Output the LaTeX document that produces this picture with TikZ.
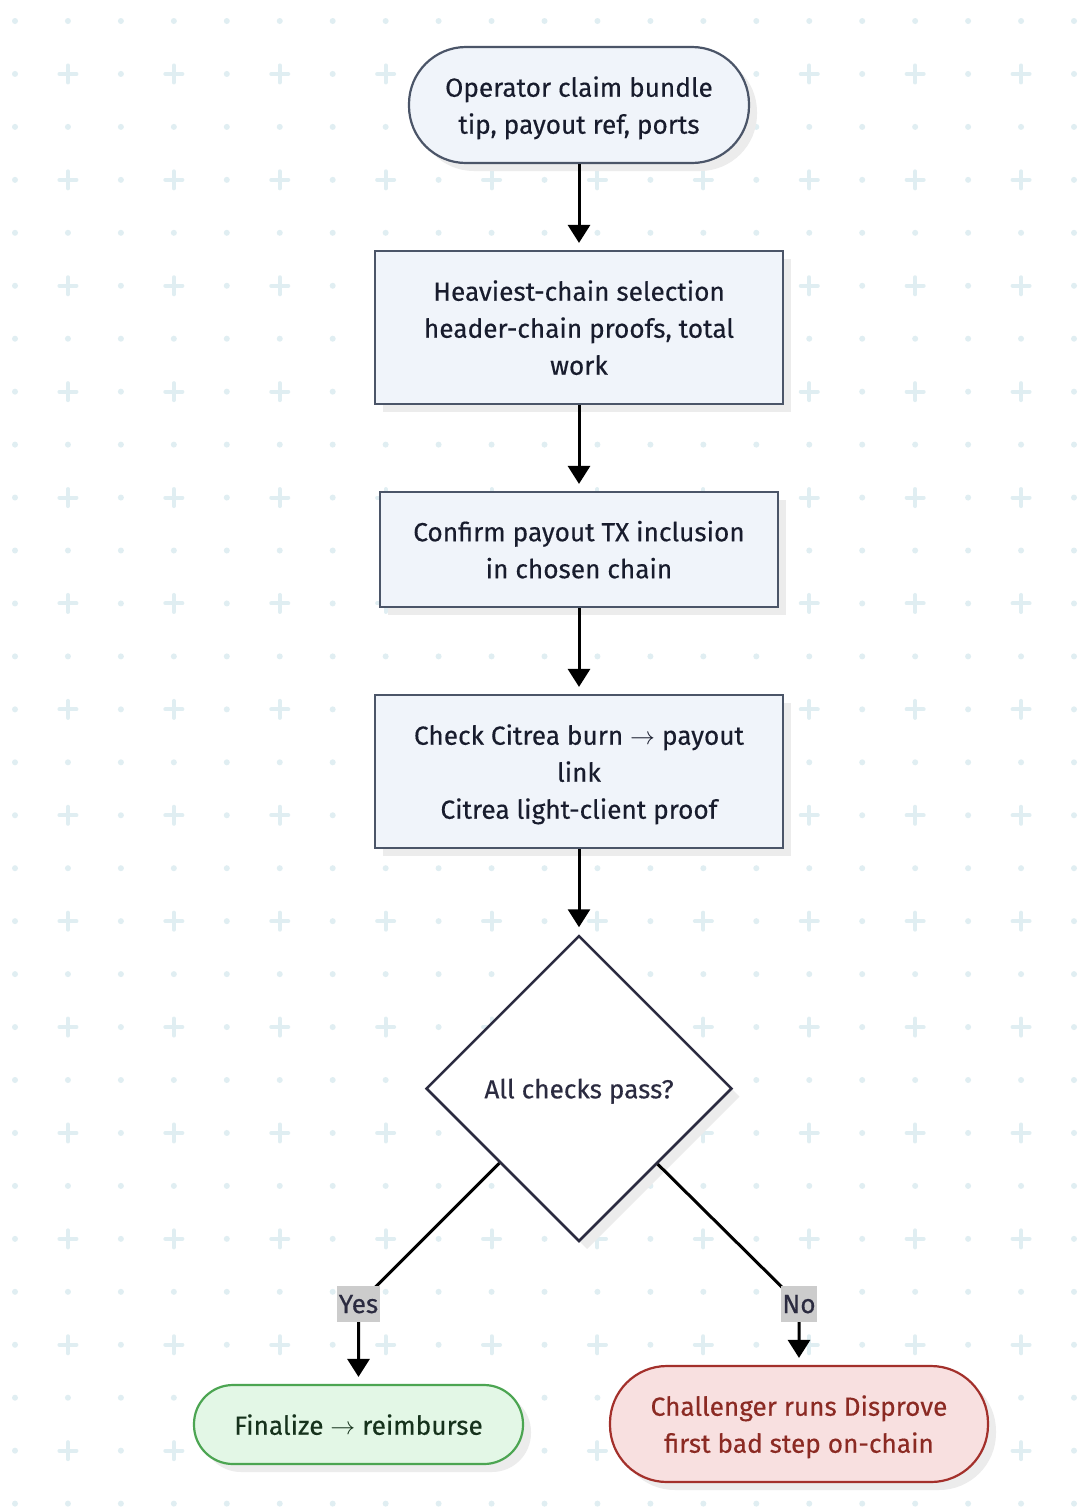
\documentclass[tikz,border=0pt]{standalone}
\usepackage{fontspec}
\setmainfont{Fira Sans}[UprightFeatures={FakeBold=0.35}]
\usetikzlibrary{shapes.geometric,arrows.meta,calc,shadows}
\definecolor{gridc}{RGB}{224,238,242}
\definecolor{boxfill}{RGB}{240,244,250}
\definecolor{boxline}{RGB}{75,85,104}
\definecolor{txt}{RGB}{24,28,45}
\definecolor{dtxt}{RGB}{43,43,64}
\definecolor{dline}{RGB}{43,43,64}
\definecolor{gfill}{RGB}{227,247,230}
\definecolor{gline}{RGB}{76,165,82}
\definecolor{gtxt}{RGB}{22,50,28}
\definecolor{rfill}{RGB}{248,224,224}
\definecolor{rline}{RGB}{163,48,43}
\definecolor{rtxt}{RGB}{139,42,35}
\definecolor{lblfill}{RGB}{204,204,204}
\definecolor{shad}{RGB}{236,236,236}
\newcommand{\arrowsym}{\ensuremath{\rightarrow}}
\begin{document}
\begin{tikzpicture}[x=1pt,y=-1pt,
  every node/.style={font=\fontsize{26.2}{37}\selectfont, text=txt, align=center, inner sep=0pt, text depth=0pt},
  shd/.style={drop shadow={shadow xshift=8pt,shadow yshift=-8pt,fill=shad,opacity=1}},
  procbox/.style={shd, draw=boxline, fill=boxfill, line width=2.2pt, minimum width=408pt, minimum height=153pt},
  stadium/.style={shd, draw=boxline, fill=boxfill, line width=2.2pt, rounded corners=57pt, minimum width=340pt, minimum height=116pt},
  decide/.style={shd, diamond, aspect=1, draw=dline, fill=white, text=dtxt, line width=2.5pt, minimum width=306pt, minimum height=306pt},
  okbox/.style={shd, draw=gline, fill=gfill, text=gtxt, line width=2.2pt, rounded corners=39pt, minimum width=329pt, minimum height=79pt},
  badbox/.style={shd, draw=rline, fill=rfill, text=rtxt, line width=2.2pt, rounded corners=57pt, minimum width=378pt, minimum height=116pt},
  lbl/.style={fill=lblfill, text=dtxt, inner xsep=1.5pt, minimum height=36pt},
  arr/.style={draw=black, line width=3pt, -{Triangle[width=22pt,length=18pt]}, shorten >=7pt}
]
\useasboundingbox (0,0) rectangle (1084,1508);
\fill[white] (0,0) rectangle (1084,1508);
% background grid
\foreach \i in {0,...,20}{
  \foreach \j in {0,...,28}{
    \pgfmathsetmacro{\gx}{15+52.95*\i}
    \pgfmathsetmacro{\gy}{21+52.95*\j}
    \pgfmathtruncatemacro{\odd}{mod(\i,2)*mod(\j,2)}
    \ifnum\odd=1
      \draw[gridc, line width=4pt, line cap=round] (\gx-8.5,\gy) -- (\gx+8.5,\gy) (\gx,\gy-8.5) -- (\gx,\gy+8.5);
    \else
      \fill[gridc] (\gx,\gy) circle (3);
    \fi
  }
}
% nodes
\node[stadium] (claim) at (579,105) {Operator claim bundle\\tip, payout ref, ports};
\node[procbox] (heavy) at (579,327.5) {Heaviest-chain selection\\header-chain proofs, total\\work};
\node[procbox, minimum width=398pt, minimum height=115pt] (confirm) at (579,549.5) {Confirm payout TX inclusion\\in chosen chain};
\node[procbox] (citrea) at (579,771.5) {Check Citrea burn \arrowsym{} payout\\link\\Citrea light-client proof};
\node[decide] (pass) at (579,1088.5) {All checks pass?};
\node[okbox] (final) at (358.5,1424.5) {Finalize \arrowsym{} reimburse};
\node[badbox] (chal) at (799,1424) {Challenger runs Disprove\\first bad step on-chain};
% connectors
\draw[arr] (claim) -- (heavy);
\draw[arr] (heavy) -- (confirm);
\draw[arr] (confirm) -- (citrea);
\draw[arr] (citrea) -- (pass);
\coordinate (ybend) at (358.5,1304);
\coordinate (nbend) at (799,1304);
\draw[arr] ($(pass.west)!0.484!(pass.south)$) -- (ybend) -- (final.north);
\draw[arr] ($(pass.east)!0.49!(pass.south)$) -- (nbend) -- (chal.north);
\node[lbl] (yes) at (ybend) {Yes};
\node[lbl] (no) at (nbend) {No};
\end{tikzpicture}
\end{document}
